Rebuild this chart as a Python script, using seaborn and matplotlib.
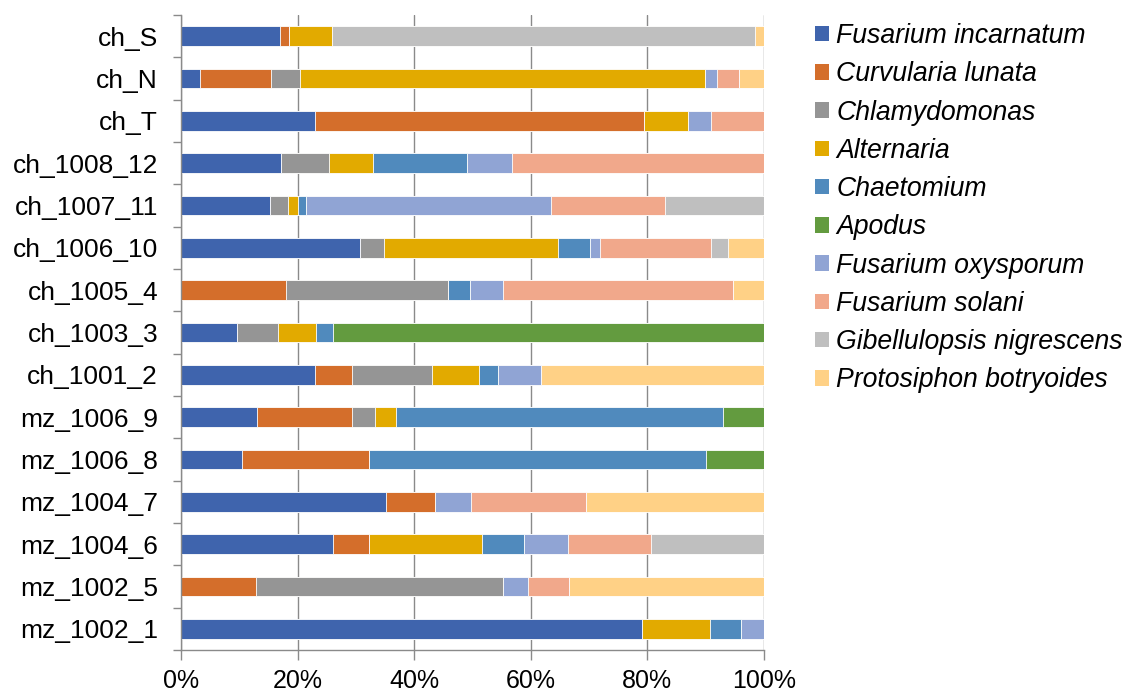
import numpy as np
import pandas as pd
import matplotlib
matplotlib.use("Agg")
import matplotlib.pyplot as plt
from matplotlib.patches import Patch
from matplotlib.ticker import FixedLocator, FuncFormatter
import seaborn as sns

samples = ["ch_S", "ch_N", "ch_T", "ch_1008_12", "ch_1007_11", "ch_1006_10",
           "ch_1005_4", "ch_1003_3", "ch_1001_2", "mz_1006_9", "mz_1006_8",
           "mz_1004_7", "mz_1004_6", "mz_1002_5", "mz_1002_1"]

species = ["Fusarium incarnatum", "Curvularia lunata", "Chlamydomonas", "Alternaria",
           "Chaetomium", "Apodus", "Fusarium oxysporum", "Fusarium solani",
           "Gibellulopsis nigrescens", "Protosiphon botryoides"]

fusarium_incarnatum = [17.0, 3.2, 23.0, 17.1, 15.3, 30.7, 0, 9.6, 22.9, 13.1, 10.5, 35.2, 26.1, 0, 79.0]
curvularia_lunata = [1.6, 12.3, 56.4, 0, 0, 0, 18.0, 0, 6.5, 16.3, 21.8, 8.4, 6.2, 12.8, 0]
chlamydomonas = [0, 4.9, 0, 8.3, 3.1, 4.2, 27.8, 7.1, 13.6, 3.8, 0, 0, 0, 42.5, 0]
alternaria = [7.4, 69.4, 7.6, 7.5, 1.6, 29.8, 0, 6.5, 8.1, 3.6, 0, 0, 19.3, 0, 11.7]
chaetomium = [0, 0, 0, 16.2, 1.4, 5.4, 3.7, 2.8, 3.2, 56.1, 57.8, 0, 7.2, 0, 5.4]
apodus = [0, 0, 0, 0, 0, 0, 0, 74.0, 0, 7.1, 9.9, 0, 0, 0, 0]
fusarium_oxysporum = [0, 2.2, 3.9, 7.6, 42.0, 1.7, 5.8, 0, 7.4, 0, 0, 6.1, 7.6, 4.3, 3.9]
fusarium_solani = [0, 3.7, 9.1, 43.3, 19.6, 19.1, 39.3, 0, 0, 0, 0, 19.7, 14.2, 6.9, 0]
gibellulopsis_nigrescens = [72.6, 0, 0, 0, 17.0, 2.9, 0, 0, 0, 0, 0, 0, 19.4, 0, 0]
protosiphon_botryoides = [1.5, 4.3, 0, 0, 0, 6.2, 5.4, 0, 38.3, 0, 0, 30.6, 0, 33.5, 0]

colors = ["#3F64AD", "#D46E2B", "#959595", "#E2AA00", "#508ABD",
          "#639B3F", "#90A4D4", "#F1A88B", "#BFBFBF", "#FFD186"]

series = [fusarium_incarnatum, curvularia_lunata, chlamydomonas, alternaria,
          chaetomium, apodus, fusarium_oxysporum, fusarium_solani,
          gibellulopsis_nigrescens, protosiphon_botryoides]

df = pd.DataFrame({sp: vals for sp, vals in zip(species, series)}, index=samples)
# 100% stacked
df = df.div(df.sum(axis=1), axis=0) * 100
cum = df.cumsum(axis=1)

sns.set_style("white")
plt.rcParams["font.family"] = ["Liberation Sans", "DejaVu Sans"]
plt.rcParams["text.color"] = "black"

fig = plt.figure(figsize=(11.23, 6.93), dpi=100)
W, H = 1123, 693
ax = fig.add_axes([181 / W, (H - 650) / H, (764 - 181) / W, (650 - 15) / H])

# draw cumulative bars from last to first so each layer overlays the previous
for i in range(len(species) - 1, -1, -1):
    sp = species[i]
    d = pd.DataFrame({"sample": samples, "value": cum[sp].values})
    sns.barplot(data=d, x="value", y="sample", order=samples, orient="h",
                color=colors[i], saturation=1, width=0.46, ax=ax,
                edgecolor="white", linewidth=0.6, errorbar=None)

ax.set_xlim(0, 100)
ax.set_ylim(len(samples) - 0.5, -0.5)
ax.set_xlabel("")
ax.set_ylabel("")

ax.xaxis.set_major_locator(FixedLocator([0, 20, 40, 60, 80, 100]))
ax.xaxis.set_major_formatter(FuncFormatter(lambda v, p: f"{int(v)}%"))
ax.grid(axis="x", color="#8A8A8A", linewidth=1.0)
ax.set_axisbelow(True)

for s in ["top", "right"]:
    ax.spines[s].set_visible(False)
for s in ["left", "bottom"]:
    ax.spines[s].set_color("#8A8A8A")
    ax.spines[s].set_linewidth(1.0)

ax.tick_params(axis="x", which="major", direction="out", length=7, width=1,
               color="#8A8A8A", labelsize=18, pad=7, labelcolor="black", bottom=True)
ax.tick_params(axis="y", which="major", length=0, labelsize=19, pad=16.5, labelcolor="black")
ax.yaxis.set_minor_locator(FixedLocator(np.arange(-0.5, len(samples), 1.0)))
ax.tick_params(axis="y", which="minor", direction="out", length=6, width=1,
               color="#8A8A8A", left=True)

handles = [Patch(facecolor=c, edgecolor="none", label=sp) for sp, c in zip(species, colors)]
leg = fig.legend(handles=handles, loc="upper left",
                 bbox_to_anchor=(815 / W, 1 - 23 / H),
                 frameon=False, borderpad=0, borderaxespad=0,
                 handlelength=0.52, handleheight=0.52, handletextpad=0.27,
                 labelspacing=0.46, labelcolor="black",
                 prop={"size": 19.2, "style": "italic"})

fig.savefig("out.png", dpi=100)
